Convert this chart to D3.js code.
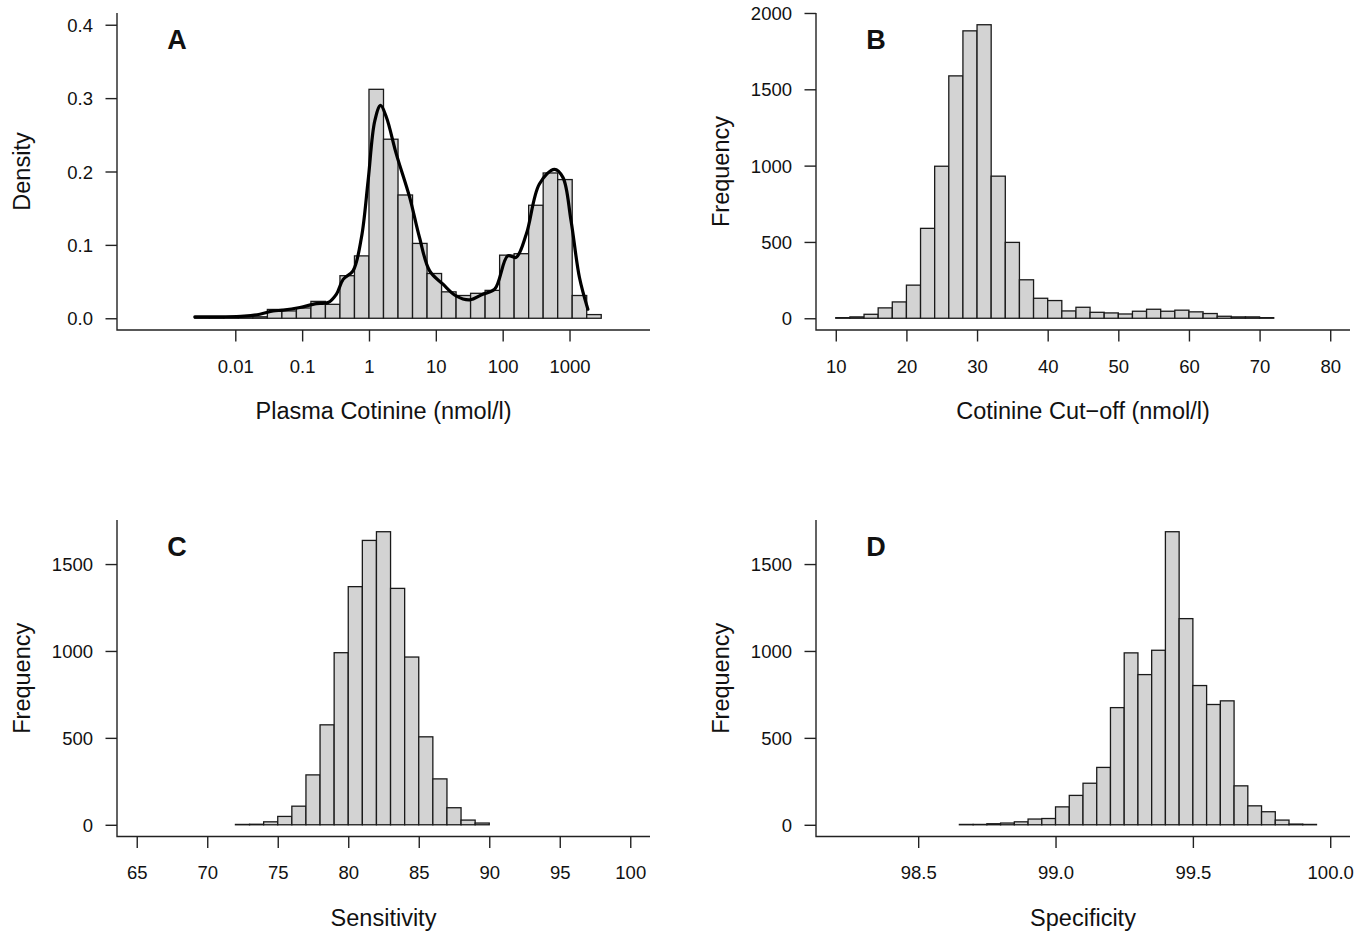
<!DOCTYPE html>
<html><head><meta charset="utf-8">
<script src="https://cdn.jsdelivr.net/npm/d3@7"></script>
<style>
body{margin:0;background:#fff}
svg{display:block}
text{font-family:"Liberation Sans",Arial,Helvetica,sans-serif;fill:#111}
</style>
</head><body>
<svg id="c" width="1371" height="933"></svg>
<script>
// ---------- DATA ----------
// Panel A: histogram of ln(plasma cotinine), bin width 0.5 (density scale)
const aBreaks = [-6,-5.5,-5,-4.5,-4,-3.5,-3,-2.5,-2,-1.5,-1,-0.5,0,0.5,1,1.5,2,2.5,3,3.5,4,4.5,5,5.5,6,6.5,7,7.5,8];
const aDensity = [0.001,0.001,0.001,0.002,0.002,0.012,0.010,0.014,0.023,0.019,0.058,0.085,0.312,0.244,0.168,0.102,0.061,0.036,0.031,0.034,0.038,0.086,0.088,0.154,0.198,0.189,0.031,0.005];
// kernel density curve (x in ln units, y density)
const aCurveX = [-6.0,-5.0,-4.3,-3.76,-3.3,-2.96,-2.38,-1.81,-1.41,-1.12,-0.89,-0.55,-0.26,-0.03,0.2,0.4,0.6,0.94,1.4,1.74,2.09,2.55,3.0,3.47,3.92,4.33,4.78,5.07,5.42,5.87,6.39,6.68,6.96,7.25,7.54];
const aCurveY = [0.0018,0.002,0.003,0.0055,0.010,0.011,0.0146,0.020,0.0214,0.033,0.053,0.0646,0.110,0.1875,0.269,0.290,0.274,0.224,0.165,0.110,0.0646,0.0464,0.0305,0.025,0.0328,0.0396,0.085,0.083,0.1147,0.183,0.203,0.192,0.133,0.0555,0.0123];
const aTickValues = [0.01,0.1,1,10,100,1000];
const aTickLabels = ["0.01","0.1","1","10","100","1000"];
const aYTicks = [0,0.1,0.2,0.3,0.4];

// Panel B: Cotinine cut-off, bin width 2
const bBreaks = [10,12,14,16,18,20,22,24,26,28,30,32,34,36,38,40,42,44,46,48,50,52,54,56,58,60,62,64,66,68,70,72];
const bCounts = [4,9,26,68,107,217,589,996,1588,1883,1923,931,497,252,131,116,48,72,39,35,28,46,59,46,53,42,31,13,9,9,4];
const bXTicks = [10,20,30,40,50,60,70,80];
const bYTicks = [0,500,1000,1500,2000];

// Panel C: Sensitivity, bin width 1
const cBreaks = [72,73,74,75,76,77,78,79,80,81,82,83,84,85,86,87,88,89,90];
const cCounts = [2,3,17,48,107,287,575,990,1370,1636,1686,1360,965,506,264,98,27,10];
const cXTicks = [65,70,75,80,85,90,95,100];
const cYTicks = [0,500,1000,1500];

// Panel D: Specificity, bin width 0.05
const dBreaks = [98.65,98.70,98.75,98.80,98.85,98.90,98.95,99.00,99.05,99.10,99.15,99.20,99.25,99.30,99.35,99.40,99.45,99.50,99.55,99.60,99.65,99.70,99.75,99.80,99.85,99.90,99.95];
const dCounts = [2,2,6,10,17,33,36,103,169,239,330,674,989,864,1004,1686,1186,801,692,713,224,109,75,27,4,2];
const dXTicks = [98.5,99.0,99.5,100.0];
const dXLabels = ["98.5","99.0","99.5","100.0"];
const dYTicks = [0,500,1000,1500];

// ---------- DRAW ----------
const svg = d3.select("#c");
const TICK = 11.5;
const FONT = '"Liberation Sans",Arial,sans-serif';

function panel(o){
  const g = svg.append("g");
  const x = d3.scaleLinear().domain(o.xDomain).range([o.left,o.right]);
  const y = d3.scaleLinear().domain(o.yDomain).range([o.bottom,o.top]);

  // bars
  const bins = o.values.map((v,i)=>({x0:o.breaks[i],x1:o.breaks[i+1],v}));
  g.selectAll("rect.bar").data(bins).join("rect")
    .attr("x",d=>x(d.x0)).attr("width",d=>x(d.x1)-x(d.x0))
    .attr("y",d=>y(d.v)).attr("height",d=>y(0)-y(d.v))
    .attr("fill","#d3d3d3").attr("stroke","#1a1a1a").attr("stroke-width",1.3);

  // curve
  if(o.curveX){
    const pts = o.curveX.map((cx,i)=>[cx,o.curveY[i]]);
    g.append("path").datum(pts)
      .attr("d",d3.line().x(d=>x(d[0])).y(d=>y(d[1])).curve(d3.curveCatmullRom.alpha(0.5)))
      .attr("fill","none").attr("stroke","#000").attr("stroke-width",3.2)
      .attr("stroke-linejoin","round").attr("stroke-linecap","round");
  }

  // L box
  g.append("path")
    .attr("d",`M${o.left},${o.top}V${o.bottom}H${o.right}`)
    .attr("fill","none").attr("stroke","#222").attr("stroke-width",1.4);

  // x axis
  const xa = d3.axisBottom(x).tickValues(o.xTickVals.map(o.xMap||(v=>v)))
    .tickSize(TICK).tickFormat((d,i)=>o.xTickLabels[i]);
  const gx = g.append("g").attr("transform",`translate(0,${o.bottom})`).call(xa);
  gx.select(".domain").remove();
  gx.selectAll(".tick line").attr("stroke","#222").attr("stroke-width",1.4);
  gx.selectAll(".tick text").attr("y",42.5).attr("dy",null)
    .style("font-size","18.5px").style("font-family",FONT).attr("fill","#111");

  // y axis
  const ya = d3.axisLeft(y).tickValues(o.yTickVals).tickSize(TICK).tickFormat(o.yFmt);
  const gy = g.append("g").attr("transform",`translate(${o.left},0)`).call(ya);
  gy.select(".domain").remove();
  gy.selectAll(".tick line").attr("stroke","#222").attr("stroke-width",1.4);
  gy.selectAll(".tick text").attr("x",-24).attr("dy","0.36em")
    .style("font-size","18.5px").style("font-family",FONT).attr("fill","#111");

  // titles
  g.append("text").attr("x",(o.left+o.right)/2).attr("y",o.bottom+89)
    .attr("text-anchor","middle").style("font-size","23.5px").text(o.xTitle);
  const cy = (o.top+o.bottom)/2;
  g.append("text").attr("transform",`translate(${o.yTitleX},${cy}) rotate(-90)`)
    .attr("text-anchor","middle").style("font-size","23.5px").text(o.yTitle);
  // panel letter
  g.append("text").attr("x",o.left+60).attr("y",o.top+36)
    .attr("text-anchor","middle").style("font-size","27px").style("font-weight","bold").text(o.letter);
}

const topRow = {top:13, bottom:330};
const botRow = {top:520, bottom:836.5};
const leftCol = {left:117, right:650, yTitleX:30};
const rightCol = {left:816, right:1350, yTitleX:728.5};

function ext(max){ return [-0.04*max, 1.04*max]; }

panel(Object.assign({}, topRow, leftCol, {
  breaks:aBreaks, values:aDensity, curveX:aCurveX, curveY:aCurveY,
  xDomain:[-8.68,9.68], yDomain:[-0.016,0.416],
  xTickVals:aTickValues, xMap:Math.log, xTickLabels:aTickLabels,
  yTickVals:aYTicks, yFmt:d3.format(".1f"),
  xTitle:"Plasma Cotinine (nmol/l)", yTitle:"Density", letter:"A"}));

panel(Object.assign({}, topRow, rightCol, {
  breaks:bBreaks, values:bCounts,
  xDomain:[7.2,82.8], yDomain:ext(d3.max(bCounts)),
  xTickVals:bXTicks, xTickLabels:bXTicks.map(String),
  yTickVals:bYTicks, yFmt:d3.format("d"),
  xTitle:"Cotinine Cut\u2212off (nmol/l)", yTitle:"Frequency", letter:"B"}));

panel(Object.assign({}, botRow, leftCol, {
  breaks:cBreaks, values:cCounts,
  xDomain:[63.6,101.4], yDomain:ext(d3.max(cCounts)),
  xTickVals:cXTicks, xTickLabels:cXTicks.map(String),
  yTickVals:cYTicks, yFmt:d3.format("d"),
  xTitle:"Sensitivity", yTitle:"Frequency", letter:"C"}));

panel(Object.assign({}, botRow, rightCol, {
  breaks:dBreaks, values:dCounts,
  xDomain:[98.128,100.072], yDomain:ext(d3.max(dCounts)),
  xTickVals:dXTicks, xTickLabels:dXLabels,
  yTickVals:dYTicks, yFmt:d3.format("d"),
  xTitle:"Specificity", yTitle:"Frequency", letter:"D"}));
</script>
</body></html>
